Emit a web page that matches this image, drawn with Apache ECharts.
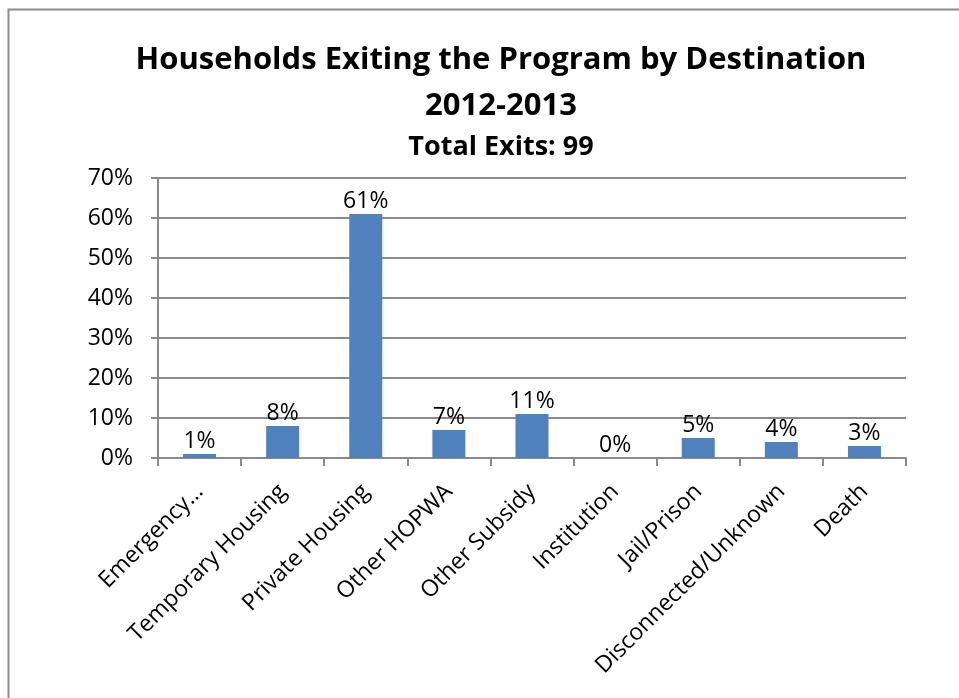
<!DOCTYPE html>
<html>
<head>
<meta charset="utf-8">
<title>Households Exiting the Program by Destination</title>
<script src="https://cdn.jsdelivr.net/npm/echarts@6/dist/echarts.min.js"></script>
<style>
  html, body { margin: 0; padding: 0; background: #fff; }
  #chart { width: 959px; height: 698px; }
</style>
</head>
<body>
<div id="chart"></div>
<script>
// Exit destinations and their share of all exits (percent)
const categories = [
  'Emergency…', 'Temporary Housing', 'Private Housing', 'Other HOPWA',
  'Other Subsidy', 'Institution', 'Jail/Prison', 'Disconnected/Unknown', 'Death'
];
const sharePercent = [1, 8, 61, 7, 11, 0, 5, 4, 3];
const yTicks = { min: 0, max: 70, step: 10 };

const FONT = '"Open Sans", "Noto Sans", sans-serif';
const GRAY = '#898989';

const chart = echarts.init(document.getElementById('chart'), null, { renderer: 'canvas' });

chart.setOption({
  backgroundColor: '#ffffff',
  animation: false,
  graphic: [{
    type: 'rect',
    shape: { x: 8.5, y: 9.5, width: 1000, height: 800 },
    style: { fill: 'none', stroke: '#8c8c8c', lineWidth: 2 },
    silent: true
  }],
  title: [{
    text: 'Households Exiting the Program by Destination\n2012-2013',
    left: 496, top: 32, textAlign: 'center',
    textStyle: { fontFamily: FONT, fontWeight: 'bold', fontSize: 31, lineHeight: 46, color: '#000' }
  }, {
    text: 'Total Exits: 99',
    left: 496, top: 129, textAlign: 'center',
    textStyle: { fontFamily: FONT, fontWeight: 'bold', fontSize: 27, color: '#000' }
  }],
  grid: { left: 158, right: 53, top: 178, bottom: 240, containLabel: false },
  xAxis: {
    type: 'category',
    data: categories,
    boundaryGap: true,
    axisLine: { lineStyle: { color: GRAY, width: 2 } },
    axisTick: { show: true, length: 8, alignWithLabel: false, lineStyle: { color: GRAY, width: 2 } },
    axisLabel: {
      interval: 0, rotate: 45, margin: 30,
      fontFamily: FONT, fontSize: 23, color: '#000'
    }
  },
  yAxis: {
    type: 'value',
    min: yTicks.min, max: yTicks.max, interval: yTicks.step,
    axisLine: { show: true, lineStyle: { color: GRAY, width: 2 } },
    axisTick: { show: true, length: 7, lineStyle: { color: GRAY, width: 2 } },
    splitLine: { show: true, lineStyle: { color: GRAY, width: 2 } },
    axisLabel: {
      margin: 25, fontFamily: FONT, fontSize: 23, color: '#000',
      formatter: v => v + '%'
    }
  },
  series: [{
    type: 'bar',
    data: sharePercent,
    barWidth: 33,
    itemStyle: { color: '#4f81bd' },
    label: {
      show: true, position: 'top', distance: 1,
      fontFamily: FONT, fontSize: 23, color: '#000',
      formatter: p => p.value + '%'
    }
  }]
});
</script>
</body>
</html>
